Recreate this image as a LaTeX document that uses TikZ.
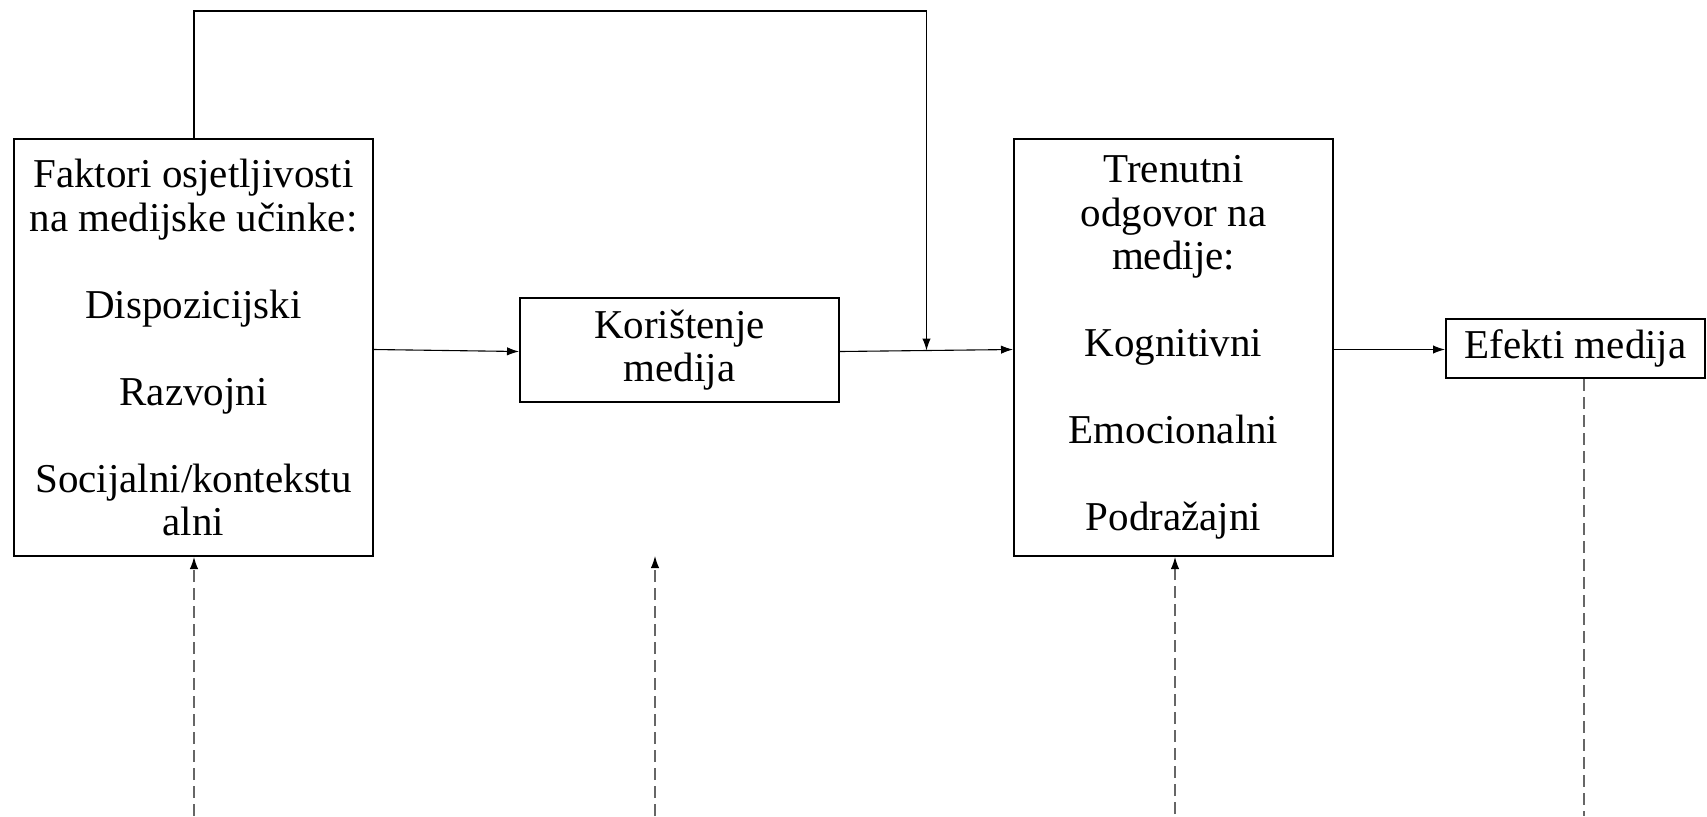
\documentclass[tikz,border=0pt]{standalone}
\usepackage{fontspec}
\setmainfont{Liberation Serif}
\usetikzlibrary{arrows.meta}
\begin{document}
\begin{tikzpicture}[x=0.5pt,y=-0.5pt,
  box/.style={draw, line width=1pt, inner sep=0pt, align=center,
    font=\fontsize{20.5}{21.75}\selectfont},
  conn/.style={line width=0.55pt, -{Latex[length=6pt,width=4.2pt]}},
  dashconn/.style={draw=black!60, line width=0.55pt, dash pattern=on 6pt off 3pt}]
\useasboundingbox (0,0) rectangle (1707,816);

\node[box, minimum width=179.5pt, minimum height=208.5pt] (fak) at (193.5,347.5)
  {Faktori osjetljivosti\\na medijske učinke:\\[21.75pt]Dispozicijski\\[21.75pt]Razvojni\\[21.75pt]Socijalni/kontekstu\\alni};
\node[box, minimum width=159.5pt, minimum height=52pt] (kor) at (679.5,350)
  {Korištenje\\medija};
\node[box, minimum width=159.5pt, minimum height=208.5pt] (tre) at (1173.5,347.5)
  {Trenutni\\odgovor na\\medije:\\[21.75pt]Kognitivni\\[21.75pt]Emocionalni\\[21.75pt]Podražajni};
\node[box, minimum width=129.5pt, minimum height=29.5pt] (efk) at (1575.5,348.5)
  {Efekti medija};

% horizontal flow
\draw[conn] (fak.east |- 0,349.5) -- (kor.west |- 0,351.5);
\draw[conn] (kor.east |- 0,351.5) -- (tre.west |- 0,349.5);
\draw[conn] (tre.east |- 0,349.5) -- (efk.west |- 0,349.5);

% top feedback connector
\coordinate (tl) at (194,11);
\coordinate (tr) at (926.5,11);
\coordinate (mid) at (926.5,350.5);
\draw[conn] (fak.north -| tl) -- (tl) -- (tr) -- (mid);

% dashed lines from bottom
\coordinate (b1) at (194,816);
\coordinate (b2) at (655,816);
\coordinate (b2t) at (655,556);
\coordinate (b3) at (1175,814);
\coordinate (b4) at (1584,816);
\draw[dashconn, -{Latex[length=6pt,width=4.2pt,fill=black,black]}] (b1) -- (fak.south -| b1);
\draw[dashconn, -{Latex[length=6pt,width=4.2pt,fill=black,black]}] (b2) -- (b2t);
\draw[dashconn, -{Latex[length=6pt,width=4.2pt,fill=black,black]}] (b3) -- (tre.south -| b3);
\draw[dashconn] (efk.south -| b4) -- (b4);
\end{tikzpicture}
\end{document}
